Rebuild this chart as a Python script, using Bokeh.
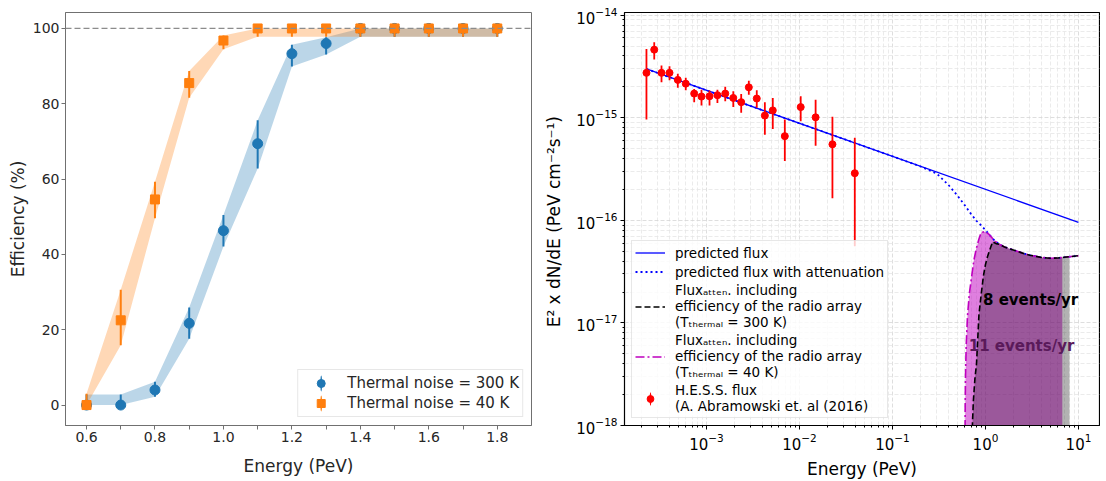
import numpy as np
from bokeh.plotting import figure
from bokeh.layouts import row
from bokeh.models import (Span, Legend, LegendItem, FixedTicker, Label,
                          PrintfTickFormatter)
from bokeh.embed import file_html
from bokeh.resources import INLINE

FONT = "DejaVu Sans"

# ---------------- left panel: efficiency vs energy ----------------
energy_eff  = [0.6, 0.7, 0.8, 0.9, 1.0, 1.1, 1.2, 1.3, 1.4, 1.5, 1.6, 1.7, 1.8]
eff_300K    = [0.0, 0.0, 4.0, 21.7, 46.3, 69.4, 93.3, 96.0, 100, 100, 100, 100, 100]
eff_300K_lo = [0.0, 0.0, 2.2, 17.6, 42.1, 62.8, 89.9, 93.1, 97.8, 97.8, 97.8, 97.8, 97.8]
eff_300K_hi = [2.8, 2.8, 6.2, 25.9, 50.5, 75.6, 95.7, 97.7, 100, 100, 100, 100, 100]
eff_40K     = [0.0, 22.5, 54.6, 85.5, 96.8, 100, 100, 100, 100, 100, 100, 100, 100]
eff_40K_lo  = [0.0, 15.9, 49.6, 81.6, 94.5, 97.8, 97.8, 97.8, 97.8, 97.8, 97.8, 97.8, 97.8]
eff_40K_hi  = [3.0, 30.6, 59.3, 88.7, 98.1, 100, 100, 100, 100, 100, 100, 100, 100]
eff_xticks = [0.6, 0.8, 1.0, 1.2, 1.4, 1.6, 1.8]
eff_xminor = [0.7, 0.9, 1.1, 1.3, 1.5, 1.7]
eff_yticks = [0, 20, 40, 60, 80, 100]

# ---------------- right panel: flux vs energy ----------------
hess_energy = [2.26e-4, 2.74e-4, 3.28e-4, 4.0e-4, 4.91e-4, 5.98e-4, 7.37e-4, 8.83e-4,
               1.077e-3, 1.31e-3, 1.59e-3, 1.94e-3, 2.36e-3, 2.85e-3, 3.47e-3, 4.24e-3,
               5.16e-3, 6.95e-3, 1.03e-2, 1.49e-2, 2.26e-2, 3.93e-2]
hess_flux = [2.74e-15, 4.61e-15, 2.74e-15, 2.74e-15, 2.34e-15, 2.15e-15, 1.72e-15, 1.61e-15,
             1.62e-15, 1.66e-15, 1.72e-15, 1.56e-15, 1.42e-15, 1.98e-15, 1.54e-15, 1.05e-15,
             1.18e-15, 6.62e-16, 1.27e-15, 1.01e-15, 5.51e-16, 2.88e-16]
hess_flux_lo = [9.6e-16, 3.69e-15, 2.22e-15, 2.32e-15, 1.96e-15, 1.85e-15, 1.42e-15, 1.32e-15,
                1.32e-15, 1.39e-15, 1.45e-15, 1.27e-15, 1.12e-15, 1.68e-15, 1.25e-15, 6.84e-16,
                7.75e-16, 3.78e-16, 9.27e-16, 5.34e-16, 1.64e-16, 5.6e-17]
hess_flux_hi = [4.69e-15, 5.43e-15, 3.24e-15, 3.17e-15, 2.68e-15, 2.45e-15, 1.91e-15, 1.88e-15,
                1.84e-15, 1.88e-15, 2.0e-15, 1.81e-15, 1.70e-15, 2.29e-15, 1.85e-15, 1.42e-15,
                1.56e-15, 9.62e-16, 1.62e-15, 1.50e-15, 1.02e-15, 6.40e-16]

pred_energy = [2.26e-4, 10.0]
pred_flux = [2.99e-15, 9.55e-17]

att_energy = [2.26e-4, 1e-3, 1e-2, 0.05, 0.1, 0.2, 0.3, 0.4, 0.5, 0.6, 0.7, 0.8, 0.9, 1.0,
              1.1, 1.2, 1.3, 1.4, 1.6, 2.0, 2.5, 3.0, 4.0, 5.0, 6.0, 7.0, 8.0, 10.0]
att_flux = [2.99e-15, 1.85e-15, 8.83e-16, 5.26e-16, 4.21e-16, 3.35e-16, 2.85e-16, 2.21e-16,
            1.74e-16, 1.40e-16, 1.15e-16, 9.89e-17, 8.91e-17, 8.04e-17, 7.24e-17, 6.61e-17,
            6.17e-17, 5.86e-17, 5.50e-17, 5.13e-17, 4.79e-17, 4.57e-17, 4.35e-17, 4.27e-17,
            4.29e-17, 4.36e-17, 4.42e-17, 4.52e-17]

flux40_energy = [0.602, 0.605, 0.61, 0.62, 0.64, 0.67, 0.70, 0.75, 0.80, 0.85, 0.90, 0.95,
                 1.0, 1.05, 1.1, 1.2, 1.3, 1.4, 1.6, 2.0, 2.5, 3.0, 4.0, 5.0, 6.0, 6.7,
                 7.0, 8.0, 10.0]
flux40 = [6.3e-19, 1.56e-18, 3.08e-18, 6.03e-18, 1.16e-17, 1.92e-17, 2.59e-17, 4.08e-17,
          5.39e-17, 6.57e-17, 7.62e-17, 7.70e-17, 7.76e-17, 7.50e-17, 7.24e-17, 6.61e-17,
          6.17e-17, 5.86e-17, 5.50e-17, 5.13e-17, 4.79e-17, 4.57e-17, 4.35e-17, 4.27e-17,
          4.29e-17, 4.34e-17, 4.36e-17, 4.42e-17, 4.52e-17]

flux300_energy = [0.705, 0.71, 0.72, 0.74, 0.77, 0.80, 0.85, 0.90, 0.95, 1.0, 1.05, 1.1,
                  1.15, 1.2, 1.25, 1.3, 1.35, 1.4, 1.6, 2.0, 2.5, 3.0, 4.0, 5.0, 6.0, 6.7,
                  7.0, 8.0, 10.0]
flux300 = [2.29e-19, 4.52e-19, 8.96e-19, 1.73e-18, 2.88e-18, 3.96e-18, 1.20e-17, 1.92e-17,
           2.87e-17, 3.72e-17, 4.41e-17, 5.02e-17, 5.63e-17, 6.17e-17, 6.05e-17, 5.92e-17,
           5.89e-17, 5.86e-17, 5.50e-17, 5.13e-17, 4.79e-17, 4.57e-17, 4.35e-17, 4.27e-17,
           4.29e-17, 4.34e-17, 4.36e-17, 4.42e-17, 4.52e-17]

fill40_max_energy = 6.7
fill300_max_energy = 8.0
fill_floor = 1e-20

events_300K_text = "8 events/yr"
events_300K_pos = (0.94, 1.67e-17)
events_40K_text = "11 events/yr"
events_40K_pos = (0.66, 5.96e-18)

flux_xticks = [1e-3, 1e-2, 1e-1, 1e0, 1e1]
flux_yticks = [1e-18, 1e-17, 1e-16, 1e-15, 1e-14]

BLUE = "#1f77b4"
ORANGE = "#ff7f0e"
MAG = "#bf00bf"

# =================== LEFT FIGURE ===================
p1 = figure(width=541, height=481, x_range=(0.5386, 1.9), y_range=(-5.43, 104.24),
            min_border_left=65, min_border_right=10, min_border_top=12, min_border_bottom=55,
            output_backend="svg", toolbar_location=None)
p1.grid.visible = False
p1.outline_line_color = "#707070"
p1.outline_line_width = 1

p1.varea(x=energy_eff, y1=eff_300K_lo, y2=eff_300K_hi, fill_color=BLUE, fill_alpha=0.3)
p1.varea(x=energy_eff, y1=eff_40K_lo, y2=eff_40K_hi, fill_color=ORANGE, fill_alpha=0.3)
p1.add_layout(Span(location=100, dimension="width", line_color="#8c8c8c",
                   line_dash="6 3", line_width=1.3))

p1.segment(x0=energy_eff, y0=eff_300K_lo, x1=energy_eff, y1=eff_300K_hi,
           line_color=BLUE, line_width=2)
r300 = p1.scatter(energy_eff, eff_300K, marker="circle", size=10, color=BLUE)
p1.segment(x0=energy_eff, y0=eff_40K_lo, x1=energy_eff, y1=eff_40K_hi,
           line_color=ORANGE, line_width=2)
r40 = p1.scatter(energy_eff, eff_40K, marker="square", size=9, color=ORANGE)

# legend-only glyphs: thin vertical ellipses acting as error-bar symbols
lb300 = p1.ellipse(x=[np.nan], y=[np.nan], width=2, height=18, width_units="screen",
                   height_units="screen", fill_color=BLUE, line_color=None)
lb40 = p1.ellipse(x=[np.nan], y=[np.nan], width=2, height=18, width_units="screen",
                  height_units="screen", fill_color=ORANGE, line_color=None)

leg1 = Legend(items=[LegendItem(label="Thermal noise = 300 K", renderers=[lb300, r300]),
                     LegendItem(label="Thermal noise = 40 K", renderers=[lb40, r40])],
              location="bottom_right")
leg1.margin = 8
leg1.padding = 3
leg1.spacing = 0
leg1.glyph_width = 39
leg1.glyph_height = 20
leg1.label_height = 20
leg1.label_standoff = 7
leg1.label_text_font = FONT
leg1.label_text_font_size = "15px"
leg1.label_text_color = "#262626"
leg1.border_line_color = "#d0d0d0"
leg1.background_fill_alpha = 0.8
p1.add_layout(leg1)

p1.xaxis.ticker = FixedTicker(ticks=eff_xticks, minor_ticks=eff_xminor)
p1.yaxis.ticker = FixedTicker(ticks=eff_yticks)
p1.xaxis.formatter = PrintfTickFormatter(format="%.1f")
p1.yaxis.formatter = PrintfTickFormatter(format="%d")
p1.xaxis.axis_label = "Energy (PeV)"
p1.yaxis.axis_label = "Efficiency (%)"
for ax in (p1.xaxis[0], p1.yaxis[0]):
    ax.axis_line_color = "#707070"
    ax.major_tick_line_color = "#707070"
    ax.minor_tick_line_color = "#707070"
    ax.major_tick_in = 0
    ax.major_tick_out = 4
    ax.minor_tick_in = 0
    ax.minor_tick_out = 4
    ax.major_label_text_font = FONT
    ax.major_label_text_font_size = "14px"
    ax.major_label_text_color = "#262626"
    ax.axis_label_text_font = FONT
    ax.axis_label_text_font_size = "17px"
    ax.axis_label_text_font_style = "normal"
    ax.axis_label_text_color = "#262626"
    ax.major_label_standoff = 2
p1.yaxis.minor_tick_out = 0
p1.yaxis.axis_label_standoff = 2
p1.xaxis.axis_label_standoff = 11

# =================== RIGHT FIGURE ===================
p2 = figure(width=559, height=481, x_axis_type="log", y_axis_type="log",
            x_range=(10 ** -3.882, 10 ** 1.226), y_range=(1e-18, 10 ** -13.974),
            min_border_left=83, min_border_right=1, min_border_top=12, min_border_bottom=55,
            output_backend="svg", toolbar_location=None)
p2.outline_line_color = "black"
p2.outline_line_width = 1.2
for g in (p2.xgrid[0], p2.ygrid[0]):
    g.grid_line_color = "#d6d6d6"
    g.grid_line_dash = "4 2"
    g.grid_line_width = 0.8
    g.minor_grid_line_color = "#e6e6e6"
    g.minor_grid_line_dash = "4 2"
    g.minor_grid_line_width = 0.8

e40 = np.array(flux40_energy)
f40 = np.array(flux40)
m40 = e40 <= fill40_max_energy
e300 = np.array(flux300_energy)
f300 = np.array(flux300)
m300 = e300 <= fill300_max_energy

p2.varea(x=e40[m40], y1=np.full(m40.sum(), fill_floor), y2=f40[m40],
         fill_color=MAG, fill_alpha=0.5)
p2.varea(x=e300[m300], y1=np.full(m300.sum(), fill_floor), y2=f300[m300],
         fill_color="black", fill_alpha=0.3)

r_att = p2.line(att_energy, att_flux, line_color="blue", line_width=1.8, line_dash="2 3")
r_pred = p2.line(pred_energy, pred_flux, line_color="blue", line_width=1.3)
r_40 = p2.line(flux40_energy, flux40, line_color=MAG, line_width=1.6, line_dash="9 3 2 3")
r_300 = p2.line(flux300_energy, flux300, line_color="black", line_width=1.6, line_dash="6 3")

p2.segment(x0=hess_energy, y0=hess_flux_lo, x1=hess_energy, y1=hess_flux_hi,
           line_color="red", line_width=1.8)
r_hess = p2.scatter(hess_energy, hess_flux, marker="circle", size=7, color="red")
lb_hess = p2.ellipse(x=[np.nan], y=[np.nan], width=2, height=16, width_units="screen",
                     height_units="screen", fill_color="red", line_color=None)

p2.add_layout(Label(x=events_300K_pos[0], y=events_300K_pos[1], text=events_300K_text,
                    text_font=FONT, text_font_size="15px", text_font_style="bold",
                    text_color="black", text_baseline="middle", text_align="left"))
p2.add_layout(Label(x=events_40K_pos[0], y=events_40K_pos[1], text=events_40K_text,
                    text_font=FONT, text_font_size="15px", text_font_style="bold",
                    text_color="#5a1a5a", text_baseline="middle", text_align="left"))

leg2 = Legend(items=[
    LegendItem(label="predicted flux", renderers=[r_pred]),
    LegendItem(label="predicted flux with attenuation", renderers=[r_att]),
    LegendItem(label="Flux\u2090\u209c\u209c\u2091\u2099. including\nefficiency of the radio array\n(T\u209c\u2095\u2091\u1d63\u2098\u2090\u2097 = 300 K)",
               renderers=[r_300]),
    LegendItem(label="Flux\u2090\u209c\u209c\u2091\u2099. including\nefficiency of the radio array\n(T\u209c\u2095\u2091\u1d63\u2098\u2090\u2097 = 40 K)",
               renderers=[r_40]),
    LegendItem(label="H.E.S.S. flux\n(A. Abramowski et. al (2016)", renderers=[lb_hess, r_hess]),
], location="bottom_left")
leg2.margin = 7
leg2.padding = 3
leg2.spacing = 2
leg2.glyph_width = 30
leg2.glyph_height = 17
leg2.label_height = 17
leg2.label_standoff = 10
leg2.label_text_font = FONT
leg2.label_text_font_size = "13.5px"
leg2.label_text_color = "black"
leg2.label_text_line_height = 1.2
leg2.border_line_color = "#d0d0d0"
leg2.background_fill_alpha = 0.8
p2.add_layout(leg2)

p2.xaxis.ticker = FixedTicker(ticks=flux_xticks,
                              minor_ticks=[m * 10.0 ** k for k in range(-4, 2) for m in range(2, 10)])
p2.yaxis.ticker = FixedTicker(ticks=flux_yticks,
                              minor_ticks=[m * 10.0 ** k for k in range(-19, -13) for m in range(2, 10)])
p2.xaxis.axis_label = "Energy (PeV)"
p2.yaxis.axis_label = "E\u00b2 x dN/dE  (PeV cm\u207b\u00b2s\u207b\u00b9)"
for ax in (p2.xaxis[0], p2.yaxis[0]):
    ax.axis_line_color = "black"
    ax.major_tick_line_color = "black"
    ax.minor_tick_line_color = "black"
    ax.major_tick_in = 0
    ax.major_tick_out = 4
    ax.minor_tick_in = 0
    ax.minor_tick_out = 2
    ax.major_label_text_font = FONT
    ax.major_label_text_font_size = "15px"
    ax.major_label_text_color = "black"
    ax.axis_label_text_font = FONT
    ax.axis_label_text_font_size = "17px"
    ax.axis_label_text_font_style = "normal"
    ax.axis_label_text_color = "black"
    ax.major_label_standoff = 3
p2.yaxis.axis_label_standoff = 9
p2.xaxis.axis_label_standoff = 6

layout = row(p1, p2, spacing=0)
open("out.html", "w").write(file_html(layout, INLINE))
